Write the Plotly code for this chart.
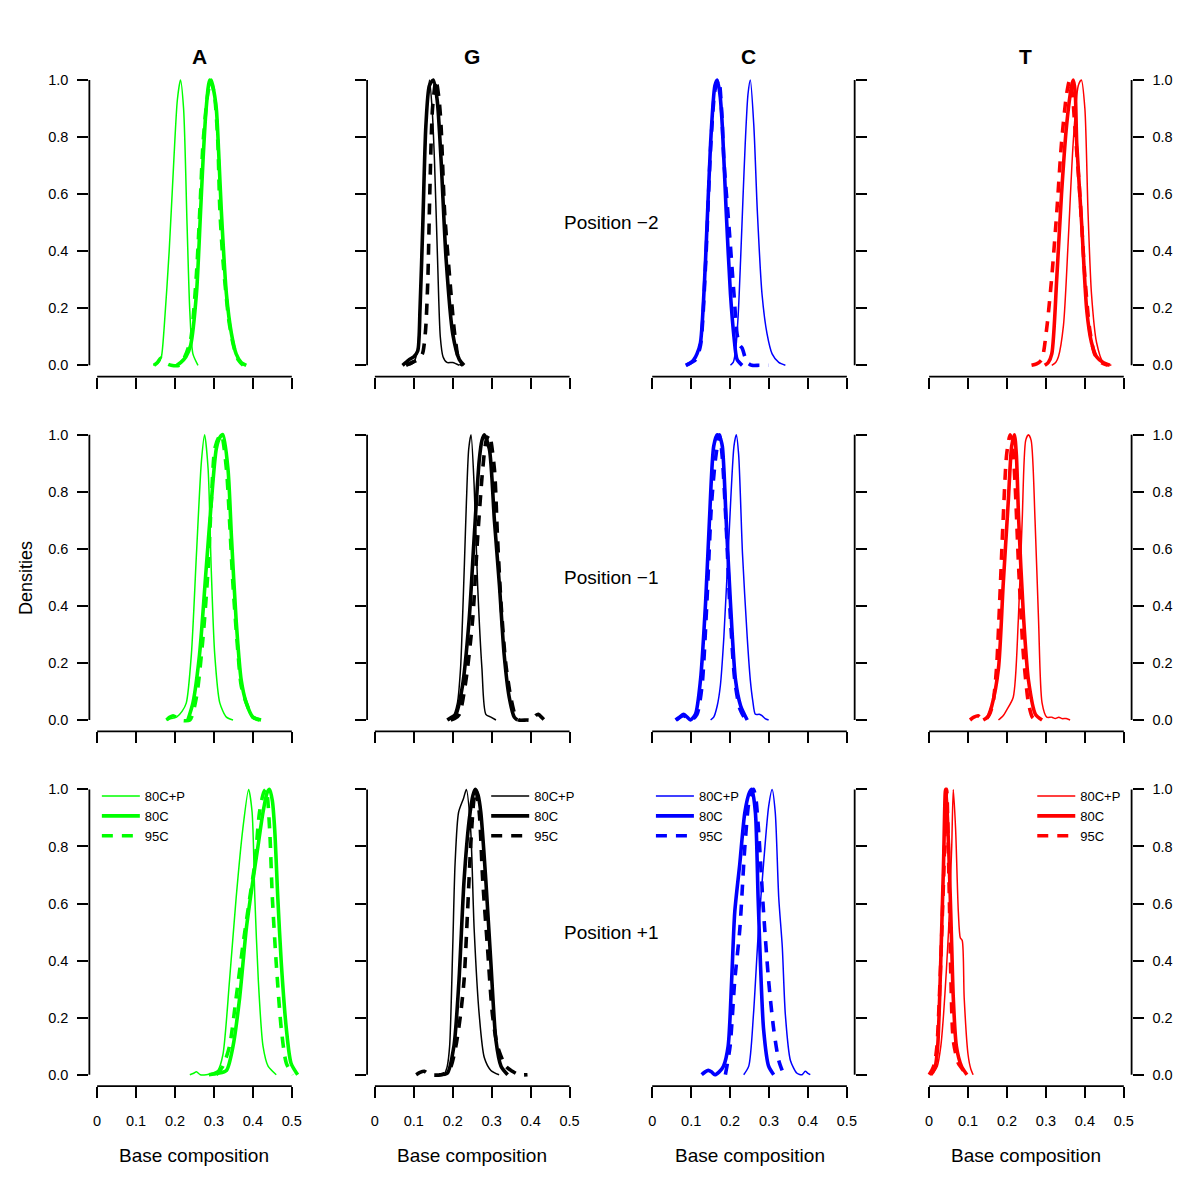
import plotly.graph_objects as go

# ---------------- data ----------------
bases = ["A", "G", "C", "T"]
base_colors = ["#00FF00", "#000000", "#0000FF", "#FF0000"]
positions = ["Position \u22122", "Position \u22121", "Position +1"]
conditions = ["80C+P", "80C", "95C"]
x_tickvals = [0, 0.1, 0.2, 0.3, 0.4, 0.5]
x_ticktext = ["0", "0.1", "0.2", "0.3", "0.4", "0.5"]
y_tickvals = [0, 0.2, 0.4, 0.6, 0.8, 1.0]
y_ticktext = ["0.0", "0.2", "0.4", "0.6", "0.8", "1.0"]

# Position -2
A_m2_80CP_x = [0.144, 0.158, 0.165, 0.172, 0.185, 0.197, 0.206, 0.214, 0.222, 0.231, 0.238, 0.246, 0.259]
A_m2_80CP_y = [0.0, 0.01, 0.03, 0.13, 0.40, 0.72, 0.93, 1.0, 0.90, 0.49, 0.19, 0.04, 0.0]
A_m2_80C_x = [0.205, 0.215, 0.228, 0.240, 0.255, 0.265, 0.272, 0.280, 0.289, 0.298, 0.306, 0.312, 0.319, 0.332, 0.345, 0.357, 0.370, 0.383]
A_m2_80C_y = [0.0, 0.01, 0.03, 0.07, 0.25, 0.52, 0.72, 0.90, 1.0, 0.97, 0.90, 0.75, 0.54, 0.25, 0.11, 0.04, 0.01, 0.0]
A_m2_95C_x = [0.146, 0.155, 0.163, 0.170, 0.180, 0.190, 0.210, 0.225, 0.240, 0.255, 0.265, 0.272, 0.284, 0.293, 0.302, 0.310, 0.315, 0.323, 0.338, 0.350, 0.362, 0.375]
A_m2_95C_y = [0.0, 0.01, 0.025, 0.02, 0.005, 0.0, 0.0, 0.03, 0.09, 0.32, 0.58, 0.78, 0.95, 1.0, 0.94, 0.78, 0.55, 0.37, 0.16, 0.07, 0.02, 0.0]

G_m2_80CP_x = [0.088, 0.100, 0.110, 0.117, 0.124, 0.132, 0.140, 0.147, 0.153, 0.161, 0.168, 0.175, 0.185, 0.200, 0.217]
G_m2_80CP_y = [0.0, 0.01, 0.06, 0.25, 0.55, 0.85, 1.0, 0.90, 0.72, 0.37, 0.10, 0.03, 0.01, 0.01, 0.0]
G_m2_80C_x = [0.071, 0.080, 0.088, 0.100, 0.110, 0.116, 0.123, 0.131, 0.140, 0.150, 0.160, 0.170, 0.183, 0.200, 0.217, 0.229]
G_m2_80C_y = [0.0, 0.01, 0.02, 0.03, 0.05, 0.20, 0.49, 0.84, 0.98, 1.0, 0.93, 0.72, 0.37, 0.11, 0.02, 0.0]
G_m2_95C_x = [0.080, 0.095, 0.110, 0.122, 0.130, 0.136, 0.141, 0.148, 0.157, 0.165, 0.170, 0.179, 0.192, 0.205, 0.217, 0.226]
G_m2_95C_y = [0.0, 0.01, 0.02, 0.04, 0.12, 0.30, 0.60, 0.90, 1.0, 0.93, 0.84, 0.54, 0.31, 0.11, 0.01, 0.0]

C_m2_80CP_x = [0.201, 0.208, 0.214, 0.221, 0.227, 0.233, 0.239, 0.246, 0.252, 0.261, 0.270, 0.282, 0.295, 0.308, 0.325, 0.342]
C_m2_80CP_y = [0.0, 0.01, 0.05, 0.18, 0.37, 0.58, 0.78, 0.95, 1.0, 0.84, 0.54, 0.25, 0.11, 0.04, 0.01, 0.0]
C_m2_80C_x = [0.086, 0.100, 0.107, 0.115, 0.124, 0.137, 0.150, 0.161, 0.167, 0.174, 0.180, 0.190, 0.201, 0.210, 0.218, 0.231]
C_m2_80C_y = [0.0, 0.01, 0.02, 0.04, 0.08, 0.37, 0.78, 0.98, 1.0, 0.95, 0.84, 0.54, 0.25, 0.10, 0.02, 0.0]
C_m2_95C_x = [0.088, 0.100, 0.112, 0.124, 0.137, 0.150, 0.162, 0.171, 0.178, 0.184, 0.197, 0.210, 0.218, 0.225, 0.231, 0.238, 0.244, 0.256, 0.275, 0.299]
C_m2_95C_y = [0.0, 0.01, 0.02, 0.07, 0.35, 0.76, 0.97, 1.0, 0.90, 0.72, 0.49, 0.25, 0.11, 0.07, 0.06, 0.03, 0.01, 0.0, 0.0, 0.0]

T_m2_80CP_x = [0.315, 0.325, 0.332, 0.345, 0.357, 0.370, 0.383, 0.391, 0.400, 0.408, 0.417, 0.430, 0.447, 0.468]
T_m2_80CP_y = [0.0, 0.01, 0.03, 0.14, 0.43, 0.78, 0.98, 1.0, 0.90, 0.54, 0.25, 0.08, 0.01, 0.0]
T_m2_80C_x = [0.297, 0.306, 0.315, 0.328, 0.340, 0.353, 0.366, 0.370, 0.375, 0.379, 0.392, 0.405, 0.417, 0.430, 0.447, 0.464]
T_m2_80C_y = [0.0, 0.01, 0.04, 0.31, 0.60, 0.84, 0.98, 1.0, 0.96, 0.78, 0.49, 0.19, 0.08, 0.03, 0.01, 0.0]
T_m2_95C_x = [0.263, 0.276, 0.289, 0.302, 0.315, 0.328, 0.340, 0.353, 0.361, 0.368, 0.374, 0.387, 0.400, 0.412, 0.425, 0.442, 0.459]
T_m2_95C_y = [0.0, 0.005, 0.02, 0.13, 0.31, 0.54, 0.78, 0.95, 1.0, 0.95, 0.84, 0.60, 0.31, 0.13, 0.04, 0.01, 0.0]

# Position -1
A_m1_80CP_x = [0.178, 0.190, 0.204, 0.218, 0.229, 0.242, 0.255, 0.268, 0.276, 0.285, 0.293, 0.302, 0.315, 0.332, 0.349]
A_m1_80CP_y = [0.0, 0.005, 0.01, 0.03, 0.06, 0.23, 0.58, 0.91, 1.0, 0.88, 0.53, 0.23, 0.06, 0.01, 0.0]
A_m1_80C_x = [0.233, 0.246, 0.263, 0.280, 0.293, 0.306, 0.315, 0.323, 0.336, 0.345, 0.357, 0.370, 0.383, 0.400, 0.421]
A_m1_80C_y = [0.0, 0.06, 0.23, 0.53, 0.76, 0.95, 0.99, 1.0, 0.88, 0.64, 0.35, 0.14, 0.06, 0.01, 0.0]
A_m1_95C_x = [0.178, 0.187, 0.195, 0.203, 0.212, 0.238, 0.255, 0.272, 0.285, 0.293, 0.302, 0.312, 0.319, 0.332, 0.340, 0.349, 0.362, 0.370, 0.383, 0.400, 0.417]
A_m1_95C_y = [0.0, 0.01, 0.015, 0.01, 0.0, 0.0, 0.08, 0.29, 0.53, 0.76, 0.95, 0.99, 1.0, 0.88, 0.70, 0.47, 0.23, 0.12, 0.06, 0.01, 0.0]

G_m1_80CP_x = [0.191, 0.200, 0.212, 0.220, 0.225, 0.230, 0.235, 0.241, 0.247, 0.255, 0.264, 0.275, 0.285, 0.298, 0.311]
G_m1_80CP_y = [0.0, 0.01, 0.06, 0.18, 0.35, 0.55, 0.76, 0.95, 1.0, 0.82, 0.47, 0.18, 0.02, 0.01, 0.0]
G_m1_80C_x = [0.186, 0.197, 0.208, 0.225, 0.242, 0.255, 0.268, 0.275, 0.281, 0.294, 0.307, 0.320, 0.332, 0.345, 0.358, 0.366]
G_m1_80C_y = [0.0, 0.01, 0.02, 0.12, 0.35, 0.64, 0.91, 0.98, 1.0, 0.95, 0.70, 0.47, 0.23, 0.08, 0.01, 0.0]
G_m1_95C_x = [0.195, 0.205, 0.217, 0.234, 0.251, 0.264, 0.277, 0.286, 0.294, 0.307, 0.315, 0.324, 0.336, 0.349, 0.362, 0.370, 0.390, 0.405, 0.413, 0.420, 0.428, 0.435]
G_m1_95C_y = [0.0, 0.005, 0.02, 0.14, 0.35, 0.64, 0.88, 0.98, 1.0, 0.88, 0.64, 0.41, 0.20, 0.08, 0.01, 0.0, 0.0, 0.0, 0.015, 0.02, 0.01, 0.0]

C_m1_80CP_x = [0.150, 0.158, 0.167, 0.175, 0.184, 0.197, 0.210, 0.216, 0.222, 0.232, 0.244, 0.252, 0.258, 0.265, 0.275, 0.282, 0.290, 0.299]
C_m1_80CP_y = [0.0, 0.01, 0.05, 0.12, 0.29, 0.64, 0.96, 1.0, 0.93, 0.58, 0.29, 0.14, 0.07, 0.02, 0.02, 0.015, 0.005, 0.0]
C_m1_80C_x = [0.060, 0.070, 0.081, 0.090, 0.098, 0.111, 0.124, 0.137, 0.147, 0.158, 0.167, 0.174, 0.180, 0.190, 0.201, 0.214, 0.227, 0.244]
C_m1_80C_y = [0.0, 0.01, 0.02, 0.01, 0.0, 0.02, 0.14, 0.41, 0.70, 0.96, 1.0, 0.99, 0.96, 0.70, 0.41, 0.14, 0.05, 0.0]
C_m1_95C_x = [0.062, 0.080, 0.100, 0.115, 0.128, 0.140, 0.152, 0.163, 0.173, 0.180, 0.190, 0.200, 0.212, 0.225, 0.240]
C_m1_95C_y = [0.0, 0.015, 0.0, 0.02, 0.12, 0.40, 0.75, 0.92, 1.0, 0.92, 0.68, 0.38, 0.14, 0.04, 0.0]

T_m1_80CP_x = [0.178, 0.190, 0.199, 0.216, 0.229, 0.239, 0.248, 0.255, 0.262, 0.272, 0.281, 0.290, 0.302, 0.315, 0.324, 0.333, 0.341, 0.352, 0.362]
T_m1_80CP_y = [0.0, 0.015, 0.035, 0.08, 0.35, 0.70, 0.98, 1.0, 0.98, 0.70, 0.35, 0.06, 0.01, 0.01, 0.005, 0.01, 0.005, 0.005, 0.0]
T_m1_80C_x = [0.139, 0.150, 0.161, 0.178, 0.190, 0.203, 0.212, 0.219, 0.224, 0.230, 0.242, 0.255, 0.273, 0.290]
T_m1_80C_y = [0.0, 0.01, 0.05, 0.18, 0.47, 0.76, 0.96, 1.0, 0.93, 0.70, 0.37, 0.14, 0.02, 0.0]
T_m1_95C_x = [0.105, 0.115, 0.126, 0.135, 0.143, 0.155, 0.164, 0.173, 0.181, 0.190, 0.199, 0.208, 0.215, 0.221, 0.230, 0.242, 0.255, 0.265, 0.273]
T_m1_95C_y = [0.0, 0.01, 0.015, 0.005, 0.0, 0.02, 0.06, 0.18, 0.41, 0.70, 0.93, 1.0, 0.95, 0.82, 0.53, 0.23, 0.06, 0.01, 0.0]

# Position +1
A_p1_80CP_x = [0.238, 0.248, 0.255, 0.265, 0.280, 0.295, 0.310, 0.323, 0.340, 0.357, 0.374, 0.389, 0.398, 0.405, 0.414, 0.426, 0.439, 0.460]
A_p1_80CP_y = [0.0, 0.005, 0.01, 0.0, 0.0, 0.005, 0.015, 0.07, 0.33, 0.62, 0.86, 1.0, 0.92, 0.62, 0.33, 0.10, 0.03, 0.0]
A_p1_80C_x = [0.287, 0.310, 0.332, 0.349, 0.366, 0.383, 0.400, 0.413, 0.426, 0.437, 0.443, 0.450, 0.456, 0.464, 0.473, 0.486, 0.498, 0.515]
A_p1_80C_y = [0.0, 0.005, 0.015, 0.10, 0.27, 0.51, 0.68, 0.80, 0.92, 0.99, 1.0, 0.96, 0.86, 0.62, 0.39, 0.16, 0.04, 0.0]
A_p1_95C_x = [0.306, 0.323, 0.340, 0.357, 0.374, 0.392, 0.405, 0.417, 0.428, 0.434, 0.443, 0.450, 0.460, 0.473, 0.486, 0.503]
A_p1_95C_y = [0.0, 0.03, 0.10, 0.27, 0.45, 0.62, 0.74, 0.92, 0.99, 1.0, 0.86, 0.62, 0.39, 0.16, 0.04, 0.0]

G_p1_80CP_x = [0.179, 0.186, 0.192, 0.200, 0.206, 0.215, 0.228, 0.235, 0.246, 0.255, 0.268, 0.281, 0.298, 0.319]
G_p1_80CP_y = [0.0, 0.03, 0.10, 0.45, 0.74, 0.92, 0.97, 1.0, 0.86, 0.51, 0.21, 0.06, 0.015, 0.0]
G_p1_80C_x = [0.165, 0.186, 0.203, 0.216, 0.229, 0.242, 0.252, 0.258, 0.265, 0.272, 0.285, 0.298, 0.311, 0.324, 0.341]
G_p1_80C_y = [0.0, 0.005, 0.10, 0.33, 0.68, 0.89, 0.98, 1.0, 0.98, 0.92, 0.68, 0.39, 0.12, 0.03, 0.0]
G_p1_95C_x = [0.106, 0.116, 0.127, 0.140, 0.170, 0.191, 0.208, 0.220, 0.229, 0.238, 0.246, 0.254, 0.259, 0.268, 0.277, 0.289, 0.302, 0.315, 0.336, 0.353, 0.370, 0.392]
G_p1_95C_y = [0.0, 0.008, 0.012, 0.0, 0.0, 0.015, 0.10, 0.21, 0.33, 0.57, 0.80, 0.96, 1.0, 0.92, 0.68, 0.45, 0.21, 0.10, 0.03, 0.012, 0.0, 0.0]

C_p1_80CP_x = [0.235, 0.248, 0.260, 0.273, 0.286, 0.299, 0.308, 0.316, 0.325, 0.334, 0.342, 0.355, 0.372, 0.385, 0.393, 0.400, 0.406]
C_p1_80CP_y = [0.0, 0.03, 0.21, 0.51, 0.74, 0.94, 1.0, 0.92, 0.62, 0.45, 0.21, 0.05, 0.005, 0.0, 0.012, 0.005, 0.0]
C_p1_80C_x = [0.127, 0.136, 0.144, 0.152, 0.161, 0.172, 0.183, 0.195, 0.204, 0.212, 0.225, 0.238, 0.250, 0.256, 0.265, 0.272, 0.278, 0.286, 0.299, 0.312]
C_p1_80C_y = [0.0, 0.01, 0.015, 0.01, 0.0, 0.01, 0.03, 0.10, 0.33, 0.57, 0.74, 0.92, 0.99, 1.0, 0.92, 0.62, 0.39, 0.16, 0.03, 0.0]
C_p1_95C_x = [0.188, 0.200, 0.212, 0.225, 0.238, 0.250, 0.260, 0.266, 0.273, 0.286, 0.299, 0.312, 0.325, 0.338]
C_p1_95C_y = [0.0, 0.10, 0.33, 0.51, 0.80, 0.97, 1.0, 0.97, 0.86, 0.57, 0.33, 0.16, 0.05, 0.0]

T_p1_80CP_x = [0.004, 0.012, 0.021, 0.030, 0.037, 0.044, 0.050, 0.058, 0.062, 0.068, 0.075, 0.080, 0.085, 0.090, 0.100, 0.107, 0.113]
T_p1_80CP_y = [0.0, 0.01, 0.03, 0.10, 0.21, 0.36, 0.51, 0.80, 1.0, 0.86, 0.57, 0.48, 0.47, 0.27, 0.07, 0.02, 0.0]
T_p1_80C_x = [0.004, 0.010, 0.016, 0.022, 0.027, 0.032, 0.037, 0.042, 0.047, 0.053, 0.058, 0.062, 0.070, 0.083, 0.097]
T_p1_80C_y = [0.0, 0.01, 0.03, 0.10, 0.27, 0.50, 0.74, 1.0, 0.90, 0.68, 0.45, 0.27, 0.10, 0.03, 0.0]
T_p1_95C_x = [0.000, 0.007, 0.014, 0.020, 0.028, 0.037, 0.045, 0.051, 0.056, 0.062, 0.075, 0.088, 0.097]
T_p1_95C_y = [0.0, 0.015, 0.04, 0.10, 0.33, 0.68, 1.0, 0.68, 0.33, 0.12, 0.04, 0.015, 0.0]

series = {
    (0, 0): [(A_m2_80CP_x, A_m2_80CP_y), (A_m2_80C_x, A_m2_80C_y), (A_m2_95C_x, A_m2_95C_y)],
    (0, 1): [(G_m2_80CP_x, G_m2_80CP_y), (G_m2_80C_x, G_m2_80C_y), (G_m2_95C_x, G_m2_95C_y)],
    (0, 2): [(C_m2_80CP_x, C_m2_80CP_y), (C_m2_80C_x, C_m2_80C_y), (C_m2_95C_x, C_m2_95C_y)],
    (0, 3): [(T_m2_80CP_x, T_m2_80CP_y), (T_m2_80C_x, T_m2_80C_y), (T_m2_95C_x, T_m2_95C_y)],
    (1, 0): [(A_m1_80CP_x, A_m1_80CP_y), (A_m1_80C_x, A_m1_80C_y), (A_m1_95C_x, A_m1_95C_y)],
    (1, 1): [(G_m1_80CP_x, G_m1_80CP_y), (G_m1_80C_x, G_m1_80C_y), (G_m1_95C_x, G_m1_95C_y)],
    (1, 2): [(C_m1_80CP_x, C_m1_80CP_y), (C_m1_80C_x, C_m1_80C_y), (C_m1_95C_x, C_m1_95C_y)],
    (1, 3): [(T_m1_80CP_x, T_m1_80CP_y), (T_m1_80C_x, T_m1_80C_y), (T_m1_95C_x, T_m1_95C_y)],
    (2, 0): [(A_p1_80CP_x, A_p1_80CP_y), (A_p1_80C_x, A_p1_80C_y), (A_p1_95C_x, A_p1_95C_y)],
    (2, 1): [(G_p1_80CP_x, G_p1_80CP_y), (G_p1_80C_x, G_p1_80C_y), (G_p1_95C_x, G_p1_95C_y)],
    (2, 2): [(C_p1_80CP_x, C_p1_80CP_y), (C_p1_80C_x, C_p1_80C_y), (C_p1_95C_x, C_p1_95C_y)],
    (2, 3): [(T_p1_80CP_x, T_p1_80CP_y), (T_p1_80C_x, T_p1_80C_y), (T_p1_95C_x, T_p1_95C_y)],
}

# ---------------- layout constants (page pixels) ----------------
FONT = "Liberation Sans, Arial, Helvetica, sans-serif"
OFF = 8                      # default page body margin
W, H = 1200 - 2 * OFF, 1200 - 2 * OFF
COL_X0 = [97.3, 375.5, 653.3, 930.7]   # page pixel where x = 0
PX_PER_X = 390.0
ROW_Y0 = [365.3, 720.0, 1074.7]        # page pixel where y = 0
PX_PER_Y = 285.3
XR = [-0.02, 0.52]
YR = [-0.04, 1.04]
styles = [dict(width=1.5, dash="solid"), dict(width=3.6, dash="solid"), dict(width=3.6, dash="11px,9px")]
AXW = 1.8
TICKLEN = 11
TICKFONT = 14.5
title_x_px = [200, 473, 750, 1027]
legend_ids = ["legend", "legend2", "legend3", "legend4"]
legend_x_px = [97, 487, 652, 1034]
legend_y_px = 781


def pxx(p):
    return (p - OFF) / W


def pxy(p):
    return 1 - (p - OFF) / H


fig = go.Figure()
layout = dict(
    width=W, height=H, margin=dict(l=0, r=0, t=0, b=0),
    paper_bgcolor="white", plot_bgcolor="white",
    font=dict(family=FONT, size=13, color="black"),
    showlegend=True,
)
shapes = []
annotations = []

for r in range(3):
    for c in range(4):
        k = r * 4 + c + 1
        xa = "x" if k == 1 else f"x{k}"
        ya = "y" if k == 1 else f"y{k}"
        left = COL_X0[c] + XR[0] * PX_PER_X
        right = COL_X0[c] + XR[1] * PX_PER_X
        bottom = ROW_Y0[r] - YR[0] * PX_PER_Y
        top = ROW_Y0[r] - YR[1] * PX_PER_Y
        layout["xaxis" if k == 1 else f"xaxis{k}"] = dict(
            domain=[pxx(left), pxx(right)], range=XR, anchor=ya,
            showgrid=False, zeroline=False, showline=False,
            ticks="outside", ticklen=TICKLEN, tickwidth=AXW, tickcolor="black",
            tickvals=x_tickvals, ticktext=x_ticktext,
            showticklabels=(r == 2), ticklabelstandoff=10,
            tickfont=dict(size=TICKFONT, family=FONT),
        )
        layout["yaxis" if k == 1 else f"yaxis{k}"] = dict(
            domain=[pxy(bottom), pxy(top)], range=YR, anchor=xa,
            side="left" if c < 2 else "right",
            showgrid=False, zeroline=False, showline=False,
            ticks="outside", ticklen=TICKLEN, tickwidth=AXW, tickcolor="black",
            tickvals=y_tickvals, ticktext=y_ticktext,
            showticklabels=(c == 0 or c == 3), ticklabelstandoff=6,
            tickfont=dict(size=TICKFONT, family=FONT),
        )
        # axis lines spanning the tick range only (R style)
        shapes.append(dict(type="line", xref="paper", yref="paper",
                           x0=pxx(COL_X0[c] + x_tickvals[0] * PX_PER_X),
                           x1=pxx(COL_X0[c] + x_tickvals[-1] * PX_PER_X),
                           y0=pxy(bottom), y1=pxy(bottom),
                           line=dict(color="black", width=AXW)))
        ax_x = left if c < 2 else right
        shapes.append(dict(type="line", xref="paper", yref="paper",
                           x0=pxx(ax_x), x1=pxx(ax_x),
                           y0=pxy(ROW_Y0[r] - y_tickvals[0] * PX_PER_Y),
                           y1=pxy(ROW_Y0[r] - y_tickvals[-1] * PX_PER_Y),
                           line=dict(color="black", width=AXW)))
        for i, (xs, ys) in enumerate(series[(r, c)]):
            fig.add_trace(go.Scatter(
                x=xs, y=ys, mode="lines", xaxis=xa, yaxis=ya,
                name=conditions[i],
                line=dict(color=base_colors[c], shape="spline", smoothing=0.7, **styles[i]),
                showlegend=(r == 2), legend=legend_ids[c],
                hoverinfo="skip",
            ))
        if r == 0:
            annotations.append(dict(text=f"<b>{bases[c]}</b>", xref="paper", yref="paper",
                                    x=pxx(title_x_px[c]), y=pxy(57),
                                    showarrow=False, font=dict(size=21, family=FONT),
                                    xanchor="center", yanchor="middle"))
        if r == 2:
            annotations.append(dict(text="Base composition", xref="paper", yref="paper",
                                    x=pxx(COL_X0[c] + 0.25 * PX_PER_X), y=pxy(1155),
                                    showarrow=False, font=dict(size=19, family=FONT),
                                    xanchor="center", yanchor="middle"))
    annotations.append(dict(text=positions[r], xref="paper", yref="paper",
                            x=pxx(613), y=pxy((ROW_Y0[r] - YR[0] * PX_PER_Y + ROW_Y0[r] - YR[1] * PX_PER_Y) / 2),
                            showarrow=False, font=dict(size=19, family=FONT),
                            xanchor="center", yanchor="middle"))

annotations.append(dict(text="Densities", xref="paper", yref="paper",
                        x=pxx(26), y=pxy(578), textangle=-90, showarrow=False,
                        font=dict(size=18, family=FONT), xanchor="center", yanchor="middle"))

for c in range(4):
    layout[legend_ids[c]] = dict(
        x=pxx(legend_x_px[c]), y=pxy(legend_y_px), xanchor="left", yanchor="top",
        bgcolor="rgba(0,0,0,0)", borderwidth=0, font=dict(size=13, family=FONT),
        tracegroupgap=0, itemwidth=38,
    )

layout["shapes"] = shapes
layout["annotations"] = annotations
fig.update_layout(**layout)
fig.write_html("out.html")
